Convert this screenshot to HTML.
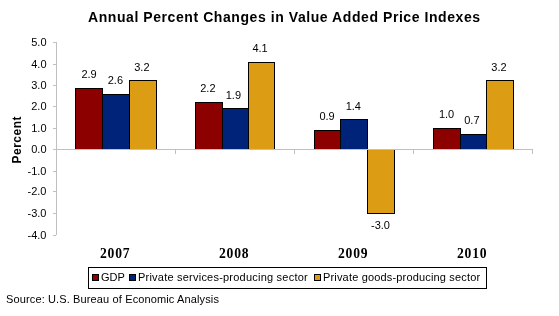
<!DOCTYPE html>
<html><head><meta charset="utf-8"><style>
html,body{margin:0;padding:0;background:#fff;width:559px;height:316px;overflow:hidden}
svg{display:block;will-change:transform}
text{fill:#000}
</style></head><body>
<svg width="559" height="316" viewBox="0 0 559 316">
<g shape-rendering="crispEdges">
<rect x="75" y="88" width="28" height="62" fill="#000"/>
<rect x="76" y="89" width="26" height="60" fill="#8c0000"/>
<rect x="102" y="94" width="28" height="56" fill="#000"/>
<rect x="103" y="95" width="26" height="54" fill="#00237a"/>
<rect x="129" y="80" width="28" height="70" fill="#000"/>
<rect x="130" y="81" width="26" height="68" fill="#dc9c14"/>
<rect x="195" y="102" width="28" height="48" fill="#000"/>
<rect x="196" y="103" width="26" height="46" fill="#8c0000"/>
<rect x="222" y="108" width="27" height="42" fill="#000"/>
<rect x="223" y="109" width="25" height="40" fill="#00237a"/>
<rect x="248" y="62" width="27" height="88" fill="#000"/>
<rect x="249" y="63" width="25" height="86" fill="#dc9c14"/>
<rect x="314" y="130" width="27" height="20" fill="#000"/>
<rect x="315" y="131" width="25" height="18" fill="#8c0000"/>
<rect x="340" y="119" width="28" height="31" fill="#000"/>
<rect x="341" y="120" width="26" height="29" fill="#00237a"/>
<rect x="433" y="128" width="28" height="22" fill="#000"/>
<rect x="434" y="129" width="26" height="20" fill="#8c0000"/>
<rect x="460" y="134" width="27" height="16" fill="#000"/>
<rect x="461" y="135" width="25" height="14" fill="#00237a"/>
<rect x="486" y="80" width="28" height="70" fill="#000"/>
<rect x="487" y="81" width="26" height="68" fill="#dc9c14"/>
<rect x="367" y="149" width="28" height="65" fill="#000"/>
<rect x="368" y="150" width="26" height="63" fill="#dc9c14"/>
<rect x="56" y="42" width="1" height="193" fill="#c0c0c0"/>
<rect x="53" y="42" width="3" height="1" fill="#c0c0c0"/>
<rect x="53" y="64" width="3" height="1" fill="#c0c0c0"/>
<rect x="53" y="85" width="3" height="1" fill="#c0c0c0"/>
<rect x="53" y="106" width="3" height="1" fill="#c0c0c0"/>
<rect x="53" y="128" width="3" height="1" fill="#c0c0c0"/>
<rect x="53" y="149" width="3" height="1" fill="#c0c0c0"/>
<rect x="53" y="171" width="3" height="1" fill="#c0c0c0"/>
<rect x="53" y="191" width="3" height="1" fill="#c0c0c0"/>
<rect x="53" y="213" width="3" height="1" fill="#c0c0c0"/>
<rect x="53" y="235" width="3" height="1" fill="#c0c0c0"/>
<rect x="56" y="149" width="477" height="1" fill="#c0c0c0"/>
<rect x="175" y="150" width="1" height="4" fill="#c0c0c0"/>
<rect x="294" y="150" width="1" height="4" fill="#c0c0c0"/>
<rect x="413" y="150" width="1" height="4" fill="#c0c0c0"/>
<rect x="532" y="150" width="1" height="4" fill="#c0c0c0"/>
<rect x="88" y="267" width="399" height="22" fill="#000"/>
<rect x="89" y="268" width="397" height="20" fill="#fff"/>
<rect x="92" y="274" width="7" height="7" fill="#000"/>
<rect x="93" y="275" width="5" height="5" fill="#8c0000"/>
<rect x="129" y="274" width="7" height="7" fill="#000"/>
<rect x="130" y="275" width="5" height="5" fill="#00237a"/>
<rect x="314" y="274" width="7" height="7" fill="#000"/>
<rect x="315" y="275" width="5" height="5" fill="#dc9c14"/>
</g>
<g>
<text x="46.5" y="46" text-anchor="end" font-size="11" font-weight="normal" font-family="&quot;Liberation Sans&quot;, sans-serif" >5.0</text>
<text x="46.5" y="68" text-anchor="end" font-size="11" font-weight="normal" font-family="&quot;Liberation Sans&quot;, sans-serif" >4.0</text>
<text x="46.5" y="89" text-anchor="end" font-size="11" font-weight="normal" font-family="&quot;Liberation Sans&quot;, sans-serif" >3.0</text>
<text x="46.5" y="110" text-anchor="end" font-size="11" font-weight="normal" font-family="&quot;Liberation Sans&quot;, sans-serif" >2.0</text>
<text x="46.5" y="132" text-anchor="end" font-size="11" font-weight="normal" font-family="&quot;Liberation Sans&quot;, sans-serif" >1.0</text>
<text x="46.5" y="153" text-anchor="end" font-size="11" font-weight="normal" font-family="&quot;Liberation Sans&quot;, sans-serif" >0.0</text>
<text x="46.5" y="175" text-anchor="end" font-size="11" font-weight="normal" font-family="&quot;Liberation Sans&quot;, sans-serif" >-1.0</text>
<text x="46.5" y="195" text-anchor="end" font-size="11" font-weight="normal" font-family="&quot;Liberation Sans&quot;, sans-serif" >-2.0</text>
<text x="46.5" y="217" text-anchor="end" font-size="11" font-weight="normal" font-family="&quot;Liberation Sans&quot;, sans-serif" >-3.0</text>
<text x="46.5" y="239" text-anchor="end" font-size="11" font-weight="normal" font-family="&quot;Liberation Sans&quot;, sans-serif" >-4.0</text>
<text x="89.07" y="78" text-anchor="middle" font-size="11" font-weight="normal" font-family="&quot;Liberation Sans&quot;, sans-serif" >2.9</text>
<text x="115.4" y="84" text-anchor="middle" font-size="11" font-weight="normal" font-family="&quot;Liberation Sans&quot;, sans-serif" >2.6</text>
<text x="141.9" y="71" text-anchor="middle" font-size="11" font-weight="normal" font-family="&quot;Liberation Sans&quot;, sans-serif" >3.2</text>
<text x="207.9" y="92" text-anchor="middle" font-size="11" font-weight="normal" font-family="&quot;Liberation Sans&quot;, sans-serif" >2.2</text>
<text x="233.4" y="99" text-anchor="middle" font-size="11" font-weight="normal" font-family="&quot;Liberation Sans&quot;, sans-serif" >1.9</text>
<text x="260.1" y="52" text-anchor="middle" font-size="11" font-weight="normal" font-family="&quot;Liberation Sans&quot;, sans-serif" >4.1</text>
<text x="327.07" y="120" text-anchor="middle" font-size="11" font-weight="normal" font-family="&quot;Liberation Sans&quot;, sans-serif" >0.9</text>
<text x="353.3" y="110" text-anchor="middle" font-size="11" font-weight="normal" font-family="&quot;Liberation Sans&quot;, sans-serif" >1.4</text>
<text x="446.6" y="118" text-anchor="middle" font-size="11" font-weight="normal" font-family="&quot;Liberation Sans&quot;, sans-serif" >1.0</text>
<text x="471.9" y="124" text-anchor="middle" font-size="11" font-weight="normal" font-family="&quot;Liberation Sans&quot;, sans-serif" >0.7</text>
<text x="499" y="71" text-anchor="middle" font-size="11" font-weight="normal" font-family="&quot;Liberation Sans&quot;, sans-serif" >3.2</text>
<text x="380.5" y="229" text-anchor="middle" font-size="11" font-weight="normal" font-family="&quot;Liberation Sans&quot;, sans-serif" >-3.0</text>
<text x="115.2" y="258" text-anchor="middle" font-size="13.6" font-weight="bold" font-family="&quot;Liberation Serif&quot;, serif" letter-spacing="0.8">2007</text>
<text x="234.2" y="258" text-anchor="middle" font-size="13.6" font-weight="bold" font-family="&quot;Liberation Serif&quot;, serif" letter-spacing="0.8">2008</text>
<text x="353.2" y="258" text-anchor="middle" font-size="13.6" font-weight="bold" font-family="&quot;Liberation Serif&quot;, serif" letter-spacing="0.8">2009</text>
<text x="472.2" y="258" text-anchor="middle" font-size="13.6" font-weight="bold" font-family="&quot;Liberation Serif&quot;, serif" letter-spacing="0.8">2010</text>
<text x="88" y="22" text-anchor="start" font-size="14" font-weight="bold" font-family="&quot;Liberation Sans&quot;, sans-serif" letter-spacing="0.57">Annual Percent Changes in Value Added Price Indexes</text>
<text x="0" y="0" text-anchor="start" font-size="12" font-weight="bold" font-family="&quot;Liberation Sans&quot;, sans-serif" letter-spacing="0.5" transform="translate(20.6,163.5) rotate(-90)">Percent</text>
<text x="101" y="281" text-anchor="start" font-size="11" font-weight="normal" font-family="&quot;Liberation Sans&quot;, sans-serif" >GDP</text>
<text x="138" y="281" text-anchor="start" font-size="11" font-weight="normal" font-family="&quot;Liberation Sans&quot;, sans-serif" letter-spacing="0.22">Private services-producing sector</text>
<text x="323" y="281" text-anchor="start" font-size="11" font-weight="normal" font-family="&quot;Liberation Sans&quot;, sans-serif" letter-spacing="0.17">Private goods-producing sector</text>
<text x="6" y="303" text-anchor="start" font-size="11" font-weight="normal" font-family="&quot;Liberation Sans&quot;, sans-serif" letter-spacing="0.13">Source: U.S. Bureau of Economic Analysis</text>
</g>
</svg>
</body></html>
